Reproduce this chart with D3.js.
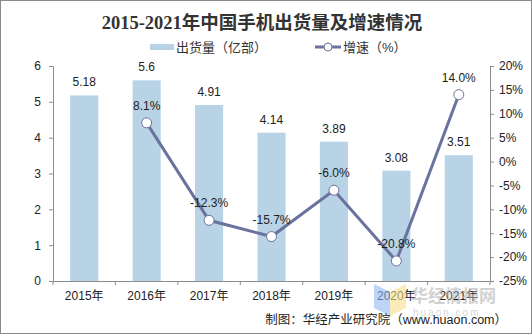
<!DOCTYPE html>
<html>
<head>
<meta charset="utf-8">
<script src="https://cdn.jsdelivr.net/npm/d3@7"></script>
<style>
body { margin: 0; background: #fff; }
text { font-family: "Liberation Sans", Arial, "Noto Sans CJK SC", sans-serif; }
</style>
</head>
<body>
<svg width="532" height="334"></svg>
<script>
var years = ["2015年", "2016年", "2017年", "2018年", "2019年", "2020年", "2021年"];
var shipments = [5.18, 5.6, 4.91, 4.14, 3.89, 3.08, 3.51];
var growth = [null, 8.1, -12.3, -15.7, -6.0, -20.8, 14.0];
var leftTicks = [0, 1, 2, 3, 4, 5, 6];
var rightTicks = [-25, -20, -15, -10, -5, 0, 5, 10, 15, 20];

var svg = d3.select("svg");
var barColor = "#b9d3e6", lineColor = "#6a729e", axisColor = "#8c8c8c";

svg.append("rect").attr("x", 0.5).attr("y", 0.5).attr("width", 531).attr("height", 333)
    .attr("fill", "#fff").attr("stroke", "#8a8a8a");

var x = d3.scaleBand().domain(years).range([53, 490]).paddingInner(0.55).paddingOuter(0.275);
var y = d3.scaleLinear().domain([0, 6]).range([281, 66]);
var y2 = d3.scaleLinear().domain([-25, 20]).range([281, 66]);

// title
svg.append("text").attr("x", 262).attr("y", 29).attr("text-anchor", "middle")
    .style("font-family", "'Liberation Serif', 'Noto Sans CJK SC', serif")
    .style("font-weight", "bold").style("font-size", "18.5px").attr("fill", "#333")
    .text("2015-2021年中国手机出货量及增速情况");

// legend
svg.append("rect").attr("x", 150).attr("y", 44).attr("width", 24).attr("height", 6).attr("fill", barColor);
svg.append("text").attr("x", 176).attr("y", 52).style("font-size", "13px").attr("fill", "#333")
    .text("出货量（亿部）");
svg.append("line").attr("x1", 315).attr("x2", 341).attr("y1", 47).attr("y2", 47)
    .attr("stroke", lineColor).attr("stroke-width", 3);
svg.append("circle").attr("cx", 328).attr("cy", 47).attr("r", 4)
    .attr("fill", "#fff").attr("stroke", lineColor).attr("stroke-width", 1);
svg.append("text").attr("x", 343).attr("y", 52).style("font-size", "13px").attr("fill", "#333")
    .text("增速（%）");

// bars
svg.append("g").selectAll("rect").data(shipments).join("rect")
    .attr("x", function(d, i) { return x(years[i]); })
    .attr("width", x.bandwidth())
    .attr("y", function(d) { return y(d); })
    .attr("height", function(d) { return y(0) - y(d); })
    .attr("fill", barColor);

svg.append("g").selectAll("text").data(shipments).join("text")
    .attr("x", function(d, i) { return x(years[i]) + x.bandwidth() / 2; })
    .attr("y", function(d) { return y(d) - 9; })
    .attr("text-anchor", "middle").style("font-size", "12px").attr("fill", "#222")
    .text(function(d) { return d; });

// axes
var gl = svg.append("g").attr("transform", "translate(53,0)")
    .call(d3.axisLeft(y).tickValues(leftTicks).tickSize(4).tickPadding(8).tickFormat(d3.format("d")));
var gr = svg.append("g").attr("transform", "translate(490,0)")
    .call(d3.axisRight(y2).tickValues(rightTicks).tickSize(4).tickPadding(5)
        .tickFormat(function(d) { return d + "%"; }));
var gb = svg.append("g").attr("transform", "translate(0,281)")
    .call(d3.axisBottom(x).tickSize(0).tickPadding(10));
// bottom ticks at band boundaries
var step = x.step();
svg.append("g").selectAll("line").data(d3.range(years.length + 1)).join("line")
    .attr("x1", function(i) { return 53 + i * step; })
    .attr("x2", function(i) { return 53 + i * step; })
    .attr("y1", 281).attr("y2", 285).attr("stroke", axisColor);

[gl, gr, gb].forEach(function(g) {
  g.selectAll("path").attr("stroke", axisColor);
  g.selectAll("line").attr("stroke", axisColor);
  g.selectAll("text").style("font-size", "12px").attr("fill", "#222")
    .style("font-family", "'Liberation Sans', Arial, 'Noto Sans CJK SC', sans-serif");
});

// growth line
var pts = growth.map(function(d, i) { return {i: i, v: d}; }).filter(function(d) { return d.v !== null; });
var line = d3.line()
    .x(function(d) { return x(years[d.i]) + x.bandwidth() / 2; })
    .y(function(d) { return y2(d.v); });
svg.append("path").datum(pts).attr("d", line).attr("fill", "none")
    .attr("stroke", lineColor).attr("stroke-width", 3);
svg.append("g").selectAll("circle").data(pts).join("circle")
    .attr("cx", function(d) { return x(years[d.i]) + x.bandwidth() / 2; })
    .attr("cy", function(d) { return y2(d.v); })
    .attr("r", 5).attr("fill", "#fff").attr("stroke", lineColor).attr("stroke-width", 1);
svg.append("g").selectAll("text").data(pts).join("text")
    .attr("x", function(d) { return x(years[d.i]) + x.bandwidth() / 2; })
    .attr("y", function(d) { return y2(d.v) - 13; })
    .attr("text-anchor", "middle").style("font-size", "12px").attr("fill", "#222")
    .text(function(d) { return d.v.toFixed(1) + "%"; });

// watermark
svg.append("path").attr("d", "M374,284 L390,292 L390,316 L374,308 Z").attr("fill", "#8fb8ee").attr("opacity", 0.6);
svg.append("path").attr("d", "M390,292 L406,284 L406,308 L390,316 Z").attr("fill", "#f6e08a").attr("opacity", 0.6);
svg.append("text").attr("x", 411).attr("y", 302).style("font-size", "17px").style("font-weight", "bold")
    .attr("fill", "#b4b4b4").attr("opacity", 0.6).style("font-family", "'Noto Sans CJK SC', sans-serif")
    .text("华经情报网");
svg.append("text").attr("x", 413).attr("y", 316).style("font-size", "10px").attr("letter-spacing", "2px")
    .attr("fill", "#c8c8c8").attr("opacity", 0.7).text("huaon.com");

// source
svg.append("text").attr("x", 507).attr("y", 324).attr("text-anchor", "end")
    .style("font-size", "12.5px").attr("fill", "#222")
    .text("制图：华经产业研究院（www.huaon.com）");
</script>
</body>
</html>
